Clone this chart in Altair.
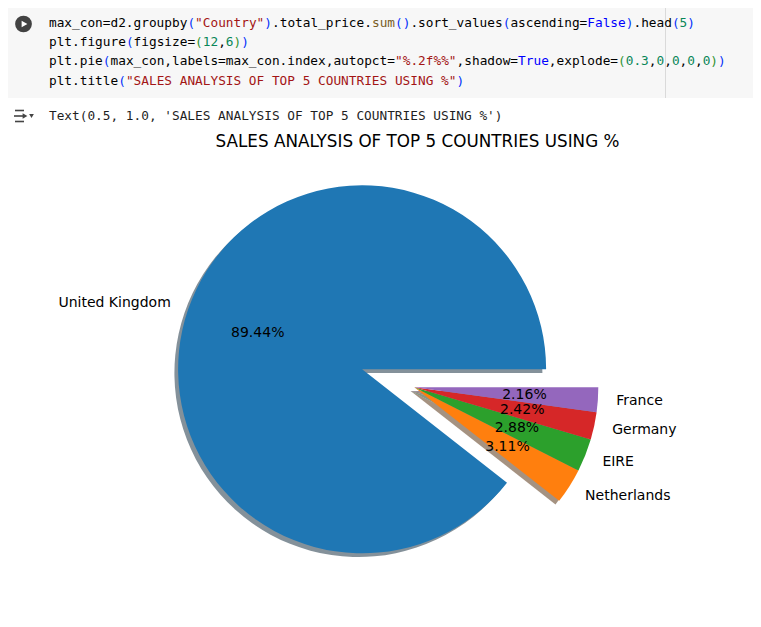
import math
import pandas as pd
import altair as alt

# ---------------- data ----------------
countries = ["United Kingdom", "Netherlands", "EIRE", "Germany", "France"]
share = [89.44, 3.11, 2.88, 2.42, 2.16]
explode = [0.3, 0, 0, 0, 0]

code_lines = [
    [("max_con=d2.groupby", "plain"), ("(", "p1"), ('"Country"', "str"), (")", "p1"),
     (".total_price.", "plain"), ("sum", "fn"), ("()", "p1"), (".sort_values", "plain"),
     ("(", "p1"), ("ascending=", "plain"), ("False", "kw"), (")", "p1"), (".head", "plain"),
     ("(", "p1"), ("5", "num"), (")", "p1")],
    [("plt.figure", "plain"), ("(", "p1"), ("figsize=", "plain"), ("(", "p2"), ("12", "num"),
     (",", "plain"), ("6", "num"), (")", "p2"), (")", "p1")],
    [("plt.pie", "plain"), ("(", "p1"), ("max_con,labels=max_con.index,autopct=", "plain"),
     ('"%.2f%%"', "str"), (",shadow=", "plain"), ("True", "kw"), (",explode=", "plain"),
     ("(", "p2"), ("0.3", "num"), (",", "plain"), ("0", "num"), (",", "plain"), ("0", "num"),
     (",", "plain"), ("0", "num"), (",", "plain"), ("0", "num"), (")", "p2"), (")", "p1")],
    [("plt.title", "plain"), ("(", "p1"), ('"SALES ANALYSIS OF TOP 5 COUNTRIES USING %"', "str"),
     (")", "p1")],
]
output_text = ["Text(0.5, 1.0, 'SALES ANALYSIS OF TOP 5 COUNTRIES USING %')"]
title_text = ["SALES ANALYSIS OF TOP 5 COUNTRIES USING %"]

# ---------------- styles ----------------
W, H = 745, 605
tab10 = ["#1f77b4", "#ff7f0e", "#2ca02c", "#d62728", "#9467bd"]


def shade(hexc, f=0.3):
    r, g, b = (int(hexc[i:i + 2], 16) for i in (1, 3, 5))
    return "#%02x%02x%02x" % (int(r * f), int(g * f), int(b * f))


shadow_cols = [shade(c) for c in tab10]
kinds = ["plain", "p1", "p2", "str", "fn", "num", "kw"]
kind_cols = ["#000000", "#0431fa", "#319331", "#a31515", "#795e26", "#098658", "#0000ff"]

R = 184
CX, CY = 406.3, 379.3
CW = 7.69
FS = CW / 0.602
X0, Y0, LH = 41, 15, 19.2

theta_scale = alt.Scale(domain=[0, 1], range=[math.pi / 2, math.pi / 2 - 2 * math.pi])

one = pd.DataFrame({"a": [0]})

# ---------------- code cell ----------------
bg = alt.Chart(one).mark_rect(color="#f7f7f7").encode(
    x=alt.value(0), x2=alt.value(W), y=alt.value(0), y2=alt.value(90))
ruler = alt.Chart(one).mark_rule(color="#dadada", strokeWidth=1).encode(
    x=alt.value(657.5), y=alt.value(0), y2=alt.value(90))

rows = []
for i, segs in enumerate(code_lines):
    col = 0
    for t, k in segs:
        rows.append({"line": i, "col": col, "seg": t, "kind": k})
        col += len(t)
code_df = pd.DataFrame(rows)

code = alt.Chart(code_df).transform_calculate(
    xp=f"{X0} + datum.col*{CW}"
).transform_calculate(
    yp=f"{Y0} + datum.line*{LH}"
).mark_text(align="left", baseline="middle", font="DejaVu Sans Mono", fontSize=FS).encode(
    x=alt.X("xp:Q", scale=None, axis=None),
    y=alt.Y("yp:Q", scale=None, axis=None),
    text="seg:N",
    color=alt.Color("kind:N", scale=alt.Scale(domain=kinds, range=kind_cols), legend=None),
)

play = alt.Chart(one).mark_point(shape="circle", filled=True, size=280, color="#424242", opacity=1).encode(
    x=alt.value(15.5), y=alt.value(16))
play_tri = alt.Chart(one).mark_point(shape="triangle-right", filled=True, size=45, color="#ffffff", opacity=1).encode(
    x=alt.value(16.5), y=alt.value(16))

out = alt.Chart(pd.DataFrame({"t": output_text})).mark_text(
    align="left", baseline="middle", font="DejaVu Sans Mono", fontSize=FS, color="#1f1f1f").encode(
    x=alt.value(X0), y=alt.value(108), text="t:N")

icon_col = "#444444"
ic1 = alt.Chart(one).mark_rule(color=icon_col, strokeWidth=1.6).encode(
    x=alt.value(7), x2=alt.value(16), y=alt.value(102.5))
ic2 = alt.Chart(one).mark_rule(color=icon_col, strokeWidth=1.6).encode(
    x=alt.value(6), x2=alt.value(17), y=alt.value(108))
ic3 = alt.Chart(one).mark_point(shape="triangle-right", filled=True, size=30, color=icon_col, opacity=1).encode(
    x=alt.value(17), y=alt.value(108))
ic4 = alt.Chart(one).mark_rule(color=icon_col, strokeWidth=1.6).encode(
    x=alt.value(7), x2=alt.value(16), y=alt.value(113.5))
ic5 = alt.Chart(one).mark_point(shape="triangle-down", filled=True, size=22, color=icon_col, opacity=1).encode(
    x=alt.value(23.5), y=alt.value(108))

# ---------------- pie ----------------
pie_df = pd.DataFrame({"country": countries, "pct": share, "explode": explode,
                       "order": list(range(len(countries)))})

base = alt.Chart(pie_df).transform_joinaggregate(
    total="sum(pct)"
).transform_window(
    cum="sum(pct)", sort=[alt.SortField("order", order="ascending")], frame=[None, 0]
).transform_calculate(
    f0="(datum.cum - datum.pct) / datum.total"
).transform_calculate(
    f1="datum.cum / datum.total"
).transform_calculate(
    ang="2 * PI * (datum.cum - datum.pct / 2) / datum.total"
).transform_calculate(
    cx=f"{CX} + datum.explode * {R} * cos(datum.ang)"
).transform_calculate(
    cy=f"{CY} - datum.explode * {R} * sin(datum.ang)"
).transform_calculate(
    lx=f"datum.cx + 1.1 * {R} * cos(datum.ang)"
).transform_calculate(
    ly=f"datum.cy - 1.1 * {R} * sin(datum.ang)"
).transform_calculate(
    px=f"datum.cx + 0.6 * {R} * cos(datum.ang)"
).transform_calculate(
    py=f"datum.cy - 0.6 * {R} * sin(datum.ang)"
).transform_calculate(
    ptxt="format(datum.pct, '.2f') + '%'"
)

enc_pos = dict(
    x=alt.X("cx:Q", scale=None, axis=None),
    y=alt.Y("cy:Q", scale=None, axis=None),
    theta=alt.Theta("f0:Q", scale=theta_scale),
    theta2="f1:Q",
)

shadow = base.mark_arc(radius=R, xOffset=-3.7, yOffset=3.7, opacity=0.5, strokeWidth=0).encode(
    color=alt.Color("country:N", scale=alt.Scale(domain=countries, range=shadow_cols), legend=None),
    **enc_pos,
)
wedges = base.mark_arc(radius=R, strokeWidth=0).encode(
    color=alt.Color("country:N", scale=alt.Scale(domain=countries, range=tab10), legend=None),
    **enc_pos,
)

lab_font = dict(font="DejaVu Sans", fontSize=14, color="#000000", baseline="middle")
lab_left = base.transform_filter("cos(datum.ang) < 0").mark_text(align="right", **lab_font).encode(
    x=alt.X("lx:Q", scale=None, axis=None), y=alt.Y("ly:Q", scale=None, axis=None), text="country:N")
lab_right = base.transform_filter("cos(datum.ang) >= 0").mark_text(align="left", **lab_font).encode(
    x=alt.X("lx:Q", scale=None, axis=None), y=alt.Y("ly:Q", scale=None, axis=None), text="country:N")
pct = base.mark_text(align="center", **lab_font).encode(
    x=alt.X("px:Q", scale=None, axis=None), y=alt.Y("py:Q", scale=None, axis=None), text="ptxt:N")

title = alt.Chart(pd.DataFrame({"t": title_text})).mark_text(
    align="center", baseline="middle", font="DejaVu Sans", fontSize=16.8, color="#000000").encode(
    x=alt.value(409.5), y=alt.value(134), text="t:N")

chart = alt.layer(
    bg, ruler, code, play, play_tri, out, ic1, ic2, ic3, ic4, ic5,
    title, shadow, wedges, lab_left, lab_right, pct,
).resolve_scale(color="independent").properties(
    width=W, height=H, padding=0, autosize=alt.AutoSizeParams(type="none"),
    background="#ffffff",
).configure_view(stroke=None)

chart.save("out.html", embed_options={"renderer": "svg", "actions": False})
